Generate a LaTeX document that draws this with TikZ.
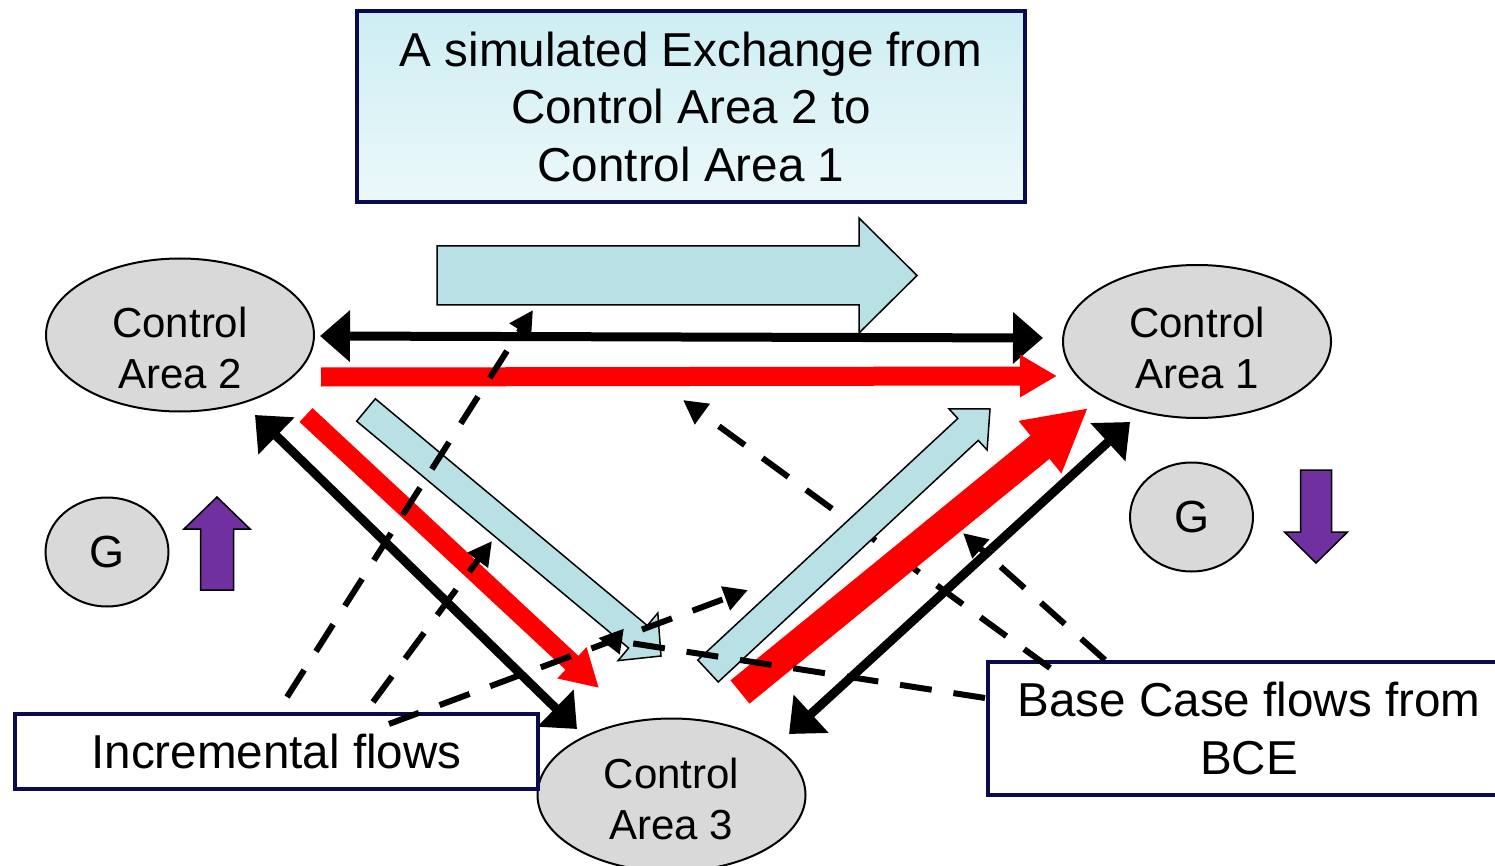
\documentclass[tikz,border=0pt]{standalone}
\usepackage{fontspec}
\setmainfont{Liberation Sans}
\usetikzlibrary{shapes.geometric,arrows.meta,calc}

\definecolor{navy}{HTML}{0A0A50}
\definecolor{areagray}{HTML}{D9D9D9}
\definecolor{flowblue}{HTML}{B9E0E4}
\definecolor{genpurple}{HTML}{7030A0}
\definecolor{boxtop}{HTML}{CDEEF3}
\definecolor{boxbot}{HTML}{ECF8FA}

\tikzset{
  area/.style={ellipse,draw,fill=areagray,line width=2pt,minimum width=268pt,minimum height=153pt,inner sep=0pt},
  gen/.style={ellipse,draw,fill=areagray,line width=2pt,minimum width=123pt,minimum height=109pt,inner sep=0pt,font=\fontsize{45}{50}\selectfont},
  areatext/.style={align=center,inner sep=0pt,font=\fontsize{42}{51}\selectfont},
  note/.style={draw=navy,fill=white,line width=3.5pt,align=center,inner sep=0pt,font=\fontsize{47.6}{57.5}\selectfont},
  tie/.style={line width=9pt,{Triangle[length=30pt,width=50pt]}-{Triangle[length=30pt,width=50pt]}},
  base/.style={red,line width=19pt,-{Triangle[length=37pt,width=40pt]}},
  flow/.style={dash pattern=on 32pt off 22pt,line width=6pt,-{Triangle[length=24pt,width=24pt]}},
  block/.style={draw,line width=1.5pt,fill=flowblue},
  genarrow/.style={draw,line width=1.5pt,fill=genpurple},
}

% block arrow: [style] tail, tip, half width, head half width, head length
\newcommand\blockarrow[6][block]{%
  \coordinate (ba-head) at ($(#3)!#6!(#2)$);
  \filldraw[#1] ($(#2)!#4!90:(#3)$) -- ($(ba-head)!#4!90:(#3)$) -- ($(ba-head)!#5!90:(#3)$)
    -- (#3) -- ($(ba-head)!#5!-90:(#3)$) -- ($(ba-head)!#4!-90:(#3)$) -- ($(#2)!#4!-90:(#3)$) -- cycle;
}

\begin{document}
\begin{tikzpicture}[x=1pt,y=-1pt]
    \useasboundingbox (0,0) rectangle (1495,866);

    % areas and generators
    \node[area] (ca2) at (180,335) {};
    \node[area] (ca1) at (1197,341.5) {};
    \node[area] (ca3) at (671.5,795) {};
    \node[areatext] (ca2t) at (180,348) {Control\\Area 2};
    \node[areatext] (ca1t) at (1197,348) {Control\\Area 1};
    \node[areatext] (ca3t) at (671.5,798.5) {Control\\Area 3};
    \node[gen] (g2) at (107,552) {G};
    \node[gen] (g1) at (1191.5,517) {G};

    % boxes
    \node[note,top color=boxtop,bottom color=boxbot,minimum width=668pt,minimum height=191pt] (xchg) at (691,106.5)
        {A simulated Exchange from\\Control Area 2 to\\Control Area 1};
    \node[note,minimum width=523pt,minimum height=75pt] (incr) at (276.5,751.5) {Incremental flows};
    \node[note,minimum width=522pt,minimum height=133pt,font=\fontsize{47.6}{58}\selectfont] (bce) at (1249,728.5)
        {Base Case flows from\\BCE};

    % end points
    \coordinate (t21a) at (320,336);   \coordinate (t21b) at (1043,338);
    \coordinate (b21a) at (321,377);   \coordinate (b21b) at (1057,376);
    \coordinate (x21a) at (437,275.5); \coordinate (x21b) at (917,275.5);
    \coordinate (t23a) at (255,415);   \coordinate (t23b) at (577,729);
    \coordinate (b23a) at (306,415);   \coordinate (b23b) at (599,688);
    \coordinate (x23a) at (366,410);   \coordinate (x23b) at (661,656);
    \coordinate (x31a) at (708,671);   \coordinate (x31b) at (990,409);
    \coordinate (b31a) at (740,692);   \coordinate (b31b) at (1088,408);
    \coordinate (t31a) at (789,734);   \coordinate (t31b) at (1130,422);
    \coordinate (u2a) at (217,590);    \coordinate (u2b) at (217,497);
    \coordinate (d1a) at (1316,470);   \coordinate (d1b) at (1316,563);
    \coordinate (i1a) at (287,697);    \coordinate (i1b) at (533,310);
    \coordinate (i2a) at (373,702);    \coordinate (i2b) at (492,541);
    \coordinate (i3a) at (389,724);    \coordinate (i3b) at (748,590);
    \coordinate (c1a) at (1050,668);   \coordinate (c1b) at (683,400);
    \coordinate (c2a) at (1105,660);   \coordinate (c2b) at (963,533);
    \coordinate (c3a) at (985,698);    \coordinate (c3b) at (598,638);

    \draw[flow] (c1a) -- (c1b);

    % flows
    \blockarrow{x21a}{x21b}{29.5pt}{57.5pt}{58pt}
    \draw[tie] (t21a) -- (t21b);
    \draw[base] (b21a) -- (b21b);
    \draw[tie] (t23a) -- (t23b);
    \draw[base] (b23a) -- (b23b);
    \blockarrow{x23a}{x23b}{14.6pt}{31pt}{30pt}
    \blockarrow{x31a}{x31b}{15pt}{28pt}{30pt}
    \draw[base,line width=30pt,-{Triangle[length=62pt,width=63pt]}] (b31a) -- (b31b);
    \draw[tie] (t31a) -- (t31b);
    \blockarrow[genarrow]{u2a}{u2b}{16.5pt}{33pt}{32pt}
    \blockarrow[genarrow]{d1a}{d1b}{15.5pt}{31.5pt}{31pt}

    % dashed flows
    \draw[flow] (i1a) -- (i1b);
    \draw[flow] (i2a) -- (i2b);
    \draw[flow] (i3a) -- (i3b);
    \draw[flow] (c2a) -- (c2b);
    \draw[flow] (c3a) -- (c3b);
\end{tikzpicture}
\end{document}
